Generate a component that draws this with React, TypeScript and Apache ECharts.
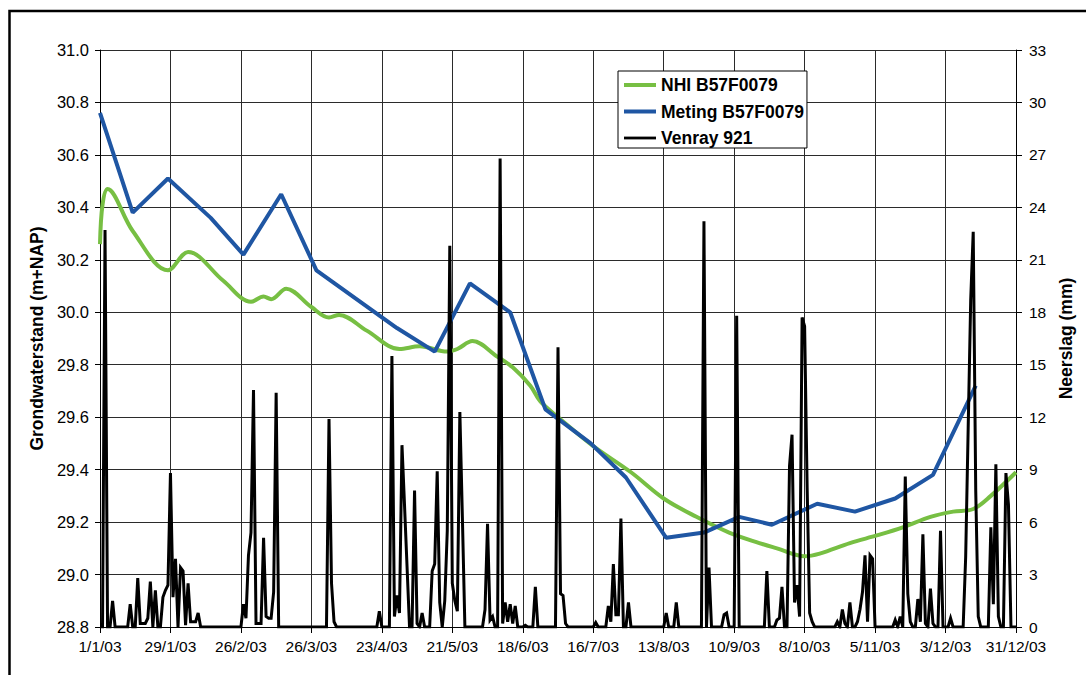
import React, { useEffect, useRef } from "react";
import * as echarts from "echarts";

// Date axis: day index 0 = 1/1/03, day 364 = 31/12/03, ticks every 28 days
const xTickLabels = [
  "1/1/03", "29/1/03", "26/2/03", "26/3/03", "23/4/03", "21/5/03", "18/6/03",
  "16/7/03", "13/8/03", "10/9/03", "8/10/03", "5/11/03", "3/12/03", "31/12/03",
];

// NHI B57F0079 modelled groundwater level [day, m+NAP]
const nhiLevels: [number, number][] = [
  [0, 30.26], [1, 30.41], [3, 30.47], [13, 30.31], [27, 30.16], [35, 30.23],
  [49, 30.12], [60, 30.04], [65, 30.06], [68, 30.05], [74, 30.09], [84, 30.02],
  [91, 29.98], [95, 29.99], [106, 29.93], [119, 29.86], [127, 29.87], [138, 29.85],
  [142, 29.86], [148, 29.89], [158, 29.83], [164, 29.79], [171, 29.72], [175, 29.66],
  [182, 29.6], [196, 29.49], [211, 29.39], [224, 29.29], [237, 29.22], [250, 29.16],
  [262, 29.12], [269, 29.1], [280, 29.07], [286, 29.08], [298, 29.12], [309, 29.15],
  [319, 29.18], [330, 29.22], [339, 29.24], [347, 29.25], [354, 29.3], [364, 29.39],
];

// Meting B57F0079 measured groundwater level [day, m+NAP]
const metingLevels: [number, number][] = [
  [0, 30.76], [13, 30.38], [27, 30.51], [44, 30.36], [57, 30.22], [72, 30.45],
  [86, 30.16], [118, 29.94], [133, 29.85], [147, 30.11], [163, 30.0], [177, 29.63],
  [195, 29.5], [209, 29.37], [225, 29.14], [240, 29.16], [254, 29.22], [267, 29.19],
  [285, 29.27], [300, 29.24], [316, 29.29], [331, 29.38], [348, 29.72],
];

// Venray 921 daily precipitation: days with rain [day, mm]; all other days are dry
const rainDays: [number, number][] = [
  [2, 22.7], [5, 1.5], [12, 1.3], [15, 2.8], [16, 0.2], [17, 0.2], [18, 0.2], [19, 0.5],
  [20, 2.6], [22, 2.1], [25, 1.7], [26, 2.1], [27, 2.4], [28, 8.8], [29, 1.7], [30, 3.9],
  [32, 3.4], [33, 3.2], [34, 0.1], [35, 2.5], [36, 0.3], [37, 0.3], [38, 0.3], [39, 0.8],
  [57, 1.3], [58, 0.5], [59, 4.1], [60, 5.4], [61, 13.55], [62, 0.2], [63, 0.2], [64, 0.2],
  [65, 5.1], [66, 0.6], [67, 0.5], [68, 0.5], [69, 2.0], [70, 13.4],
  [91, 11.9], [92, 2.5], [93, 0.3],
  [111, 0.9], [116, 15.5], [117, 0.6], [118, 1.8], [119, 0.8], [120, 10.4], [121, 7.0],
  [122, 3.5], [125, 7.8], [126, 0.2], [128, 0.8], [132, 3.2], [133, 3.6], [134, 8.9],
  [135, 1.4], [137, 1.5], [138, 5.5], [139, 21.8], [140, 2.5], [141, 1.5], [142, 0.9],
  [143, 12.3], [144, 6.3],
  [153, 1.0], [154, 5.9], [155, 0.4], [156, 0.6], [159, 26.8], [160, 0.2], [161, 1.4],
  [162, 0.3], [163, 1.3], [164, 0.2], [165, 1.2], [169, 0.1], [173, 2.3],
  [182, 16.0], [183, 1.9], [184, 1.8], [185, 0.2], [197, 0.25], [202, 1.2], [203, 0.3],
  [204, 3.6], [205, 0.7], [206, 0.7], [207, 6.2], [210, 1.4],
  [225, 0.8], [229, 1.4],
  [240, 23.2], [242, 3.4], [248, 0.7], [249, 0.8], [253, 17.8],
  [265, 3.2], [269, 0.4], [270, 0.5], [271, 2.3], [274, 9.2], [275, 11.0], [276, 1.4],
  [277, 2.4], [278, 0.6], [279, 17.7], [280, 17.2], [281, 8.0], [282, 0.8], [283, 0.3],
  [293, 0.3], [295, 1.0], [296, 0.2], [298, 1.4], [301, 0.3], [302, 1.0], [303, 2.0],
  [304, 4.1], [305, 0.3], [306, 4.1], [307, 3.9],
  [316, 0.4], [318, 0.6], [320, 8.6], [321, 1.9], [322, 0.3], [325, 1.6], [326, 0.3],
  [327, 5.3], [328, 0.2], [330, 2.2], [331, 0.2], [334, 5.5], [338, 0.5],
  [344, 4.0], [345, 11.4], [346, 18.7], [347, 22.6], [348, 7.8], [349, 0.6],
  [354, 5.7], [355, 1.3], [356, 9.3], [357, 0.6], [360, 8.8], [361, 7.0],
];

const DAYS = 365;
const FONT = "'Liberation Sans', Arial, sans-serif";
const GREEN = "#77bf43";
const BLUE = "#1f56a3";

function buildRainSeries(): [number, number][] {
  const byDay = new Map<number, number>(rainDays);
  const out: [number, number][] = [];
  for (let d = 0; d < DAYS; d++) out.push([d, byDay.get(d) ?? 0]);
  return out;
}

export default function App() {
  const ref = useRef<HTMLDivElement>(null);

  useEffect(() => {
    if (!ref.current) return;
    const chart = echarts.init(ref.current, undefined, { renderer: "svg" });
    const gridColor = "#2b2b2b";

    chart.setOption({
      animation: false,
      backgroundColor: "#fff",
      textStyle: { fontFamily: FONT },
      graphic: [
        {
          type: "rect",
          shape: { x: 9.5, y: 11, width: 1200, height: 800 },
          style: { fill: "none", stroke: "#000", lineWidth: 2.5 },
          silent: true,
          z: 100,
        },
      ],
      grid: { left: 100, right: 70, top: 50, bottom: 48 },
      legend: {
        orient: "vertical",
        left: 618,
        top: 71,
        itemWidth: 32,
        itemHeight: 4,
        itemGap: 8.5,
        icon: "rect",
        padding: [5, 3, 1, 6],
        borderColor: "#000",
        borderWidth: 1,
        backgroundColor: "#fff",
        textStyle: {
          fontFamily: FONT,
          fontSize: 17.5,
          fontWeight: "bold",
          color: "#000",
          lineHeight: 17,
        },
        data: [
          { name: "NHI B57F0079", itemStyle: { color: GREEN } },
          { name: "Meting B57F0079", itemStyle: { color: BLUE } },
          { name: "Venray 921", icon: "path://M0,0.6H32V3.4H0Z", itemStyle: { color: "#000" } },
        ],
        z: 50,
      },
      xAxis: {
        type: "value",
        min: 0,
        max: 364,
        interval: 28,
        axisLine: { show: true, onZero: false, lineStyle: { color: "#000", width: 1 } },
        axisTick: { show: true, length: 6, lineStyle: { color: "#000" } },
        axisLabel: {
          fontFamily: FONT,
          fontSize: 15.5,
          color: "#000",
          margin: 11,
          formatter: (v: number) => xTickLabels[Math.round(v / 28)] ?? "",
        },
        splitLine: { show: true, lineStyle: { color: gridColor, width: 1 } },
      },
      yAxis: [
        {
          type: "value",
          min: 28.8,
          max: 31.0,
          interval: 0.2,
          name: "Grondwaterstand (m+NAP)",
          nameLocation: "middle",
          nameGap: 50,
          nameTextStyle: { fontFamily: FONT, fontSize: 17.5, fontWeight: "bold", color: "#000" },
          axisLine: { show: true, lineStyle: { color: "#000", width: 1 } },
          axisTick: { show: true, length: 5, lineStyle: { color: "#000" } },
          axisLabel: {
            fontFamily: FONT,
            fontSize: 16.5,
            color: "#000",
            margin: 11,
            formatter: (v: number) => v.toFixed(1),
          },
          splitLine: { show: true, lineStyle: { color: gridColor, width: 1 } },
        },
        {
          type: "value",
          min: 0,
          max: 33,
          interval: 3,
          position: "right",
          name: "Neerslag (mm)",
          nameLocation: "middle",
          nameGap: 41,
          nameRotate: 90,
          nameTextStyle: { fontFamily: FONT, fontSize: 17.5, fontWeight: "bold", color: "#000" },
          axisLine: { show: true, lineStyle: { color: "#000", width: 1 } },
          axisTick: { show: true, length: 6, lineStyle: { color: "#000" } },
          axisLabel: { fontFamily: FONT, fontSize: 15.5, color: "#000", margin: 13 },
          splitLine: { show: false },
        },
      ],
      series: [
        {
          name: "NHI B57F0079",
          type: "line",
          yAxisIndex: 0,
          data: nhiLevels,
          symbol: "none",
          smooth: 0.35,
          color: GREEN,
          lineStyle: { color: GREEN, width: 4 },
        },
        {
          name: "Meting B57F0079",
          type: "line",
          yAxisIndex: 0,
          data: metingLevels,
          symbol: "none",
          color: BLUE,
          lineStyle: { color: BLUE, width: 4 },
        },
        {
          name: "Venray 921",
          type: "line",
          yAxisIndex: 1,
          data: buildRainSeries(),
          symbol: "none",
          color: "#000",
          lineStyle: { color: "#000", width: 3, join: "miter" },
        },
      ],
    });

    return () => chart.dispose();
  }, []);

  return (
    <div
      ref={ref}
      style={{ position: "fixed", left: 0, top: 0, width: 1086, height: 675, background: "#fff" }}
    />
  );
}
